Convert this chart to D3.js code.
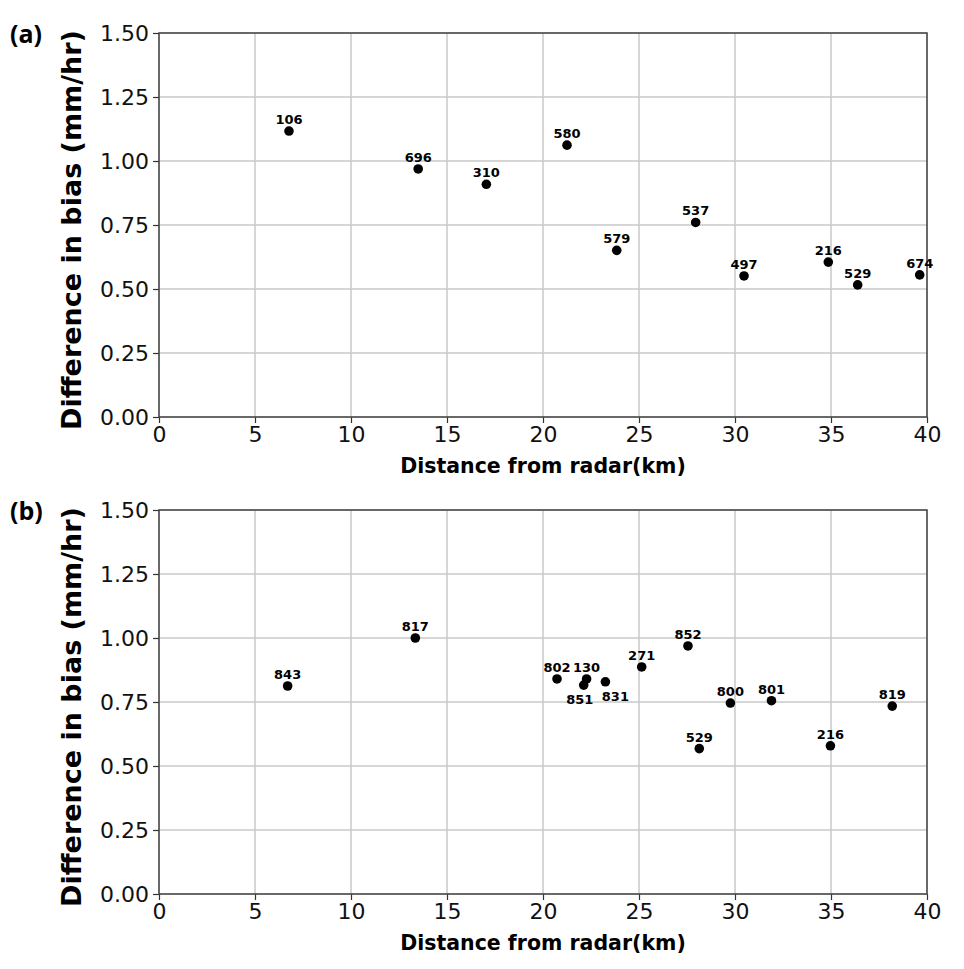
<!DOCTYPE html>
<html>
<head>
<meta charset="utf-8">
<script src="https://cdn.jsdelivr.net/npm/d3@7"></script>
<style>
  body { margin: 0; background: #fff; }
  svg { display: block; }
</style>
</head>
<body>
<svg id="chart"></svg>
<script>
// Panel (a)
const stationsA = ['106', '696', '310', '580', '579', '537', '497', '216', '529', '674'];
const distA = [6.77, 13.5, 17.05, 21.25, 23.84, 27.95, 30.47, 34.86, 36.39, 39.62];
const biasA = [1.117, 0.969, 0.909, 1.062, 0.651, 0.76, 0.551, 0.605, 0.516, 0.555];

// Panel (b)
const stationsB = ['843', '817', '802', '130', '851', '831', '271', '852', '529', '800', '801', '216', '819'];
const distB = [6.70, 13.35, 20.73, 22.27, 22.12, 23.25, 25.14, 27.55, 28.14, 29.76, 31.9, 34.97, 38.19];
const biasB = [0.8125, 1.00, 0.84, 0.84, 0.816, 0.829, 0.887, 0.969, 0.568, 0.746, 0.755, 0.579, 0.734];

const xTicks = [0, 5, 10, 15, 20, 25, 30, 35, 40];
const yTicks = [0, 0.25, 0.5, 0.75, 1.0, 1.25, 1.5];

const width = 964, height = 969;
const svg = d3.select('#chart').attr('width', width).attr('height', height);

const left = 159, right = 927;
const x = d3.scaleLinear().domain([0, 40]).range([left, right]);

function drawPanel(tag, top, stations, dist, bias, belowLabels) {
  const bottom = top + 384;
  const y = d3.scaleLinear().domain([0, 1.5]).range([bottom, top]);
  const g = svg.append('g');

  // grid
  g.append('g').selectAll('line').data(xTicks).enter().append('line')
    .attr('x1', d => x(d)).attr('x2', d => x(d))
    .attr('y1', top).attr('y2', bottom)
    .attr('stroke', '#c8c8c8').attr('stroke-width', 1.5);
  g.append('g').selectAll('line').data(yTicks).enter().append('line')
    .attr('x1', left).attr('x2', right)
    .attr('y1', d => y(d)).attr('y2', d => y(d))
    .attr('stroke', '#c8c8c8').attr('stroke-width', 1.5);

  // axes
  const xAxis = g.append('g')
    .attr('transform', `translate(0,${bottom})`)
    .call(d3.axisBottom(x).tickValues(xTicks).tickFormat(d3.format('d')).tickSize(6).tickPadding(3));
  const yAxis = g.append('g')
    .attr('transform', `translate(${left},0)`)
    .call(d3.axisLeft(y).tickValues(yTicks).tickFormat(d3.format('.2f')).tickSize(6).tickPadding(4));
  [xAxis, yAxis].forEach(a => {
    a.select('.domain').remove();
    a.selectAll('line').attr('stroke', '#333').attr('stroke-width', 1.2);
    a.selectAll('text')
      .style('font-family', 'DejaVu Sans')
      .style('font-size', '22px')
      .attr('fill', '#111');
  });

  // frame
  g.append('rect')
    .attr('x', left).attr('y', top)
    .attr('width', right - left).attr('height', bottom - top)
    .attr('fill', 'none').attr('stroke', '#444').attr('stroke-width', 1.5);

  // points
  g.append('g').selectAll('circle').data(stations).enter().append('circle')
    .attr('cx', (d, i) => x(dist[i]))
    .attr('cy', (d, i) => y(bias[i]))
    .attr('r', 4.8)
    .attr('fill', '#000');

  // station labels (two crowded ones in panel b sit below their point)
  g.append('g').selectAll('text').data(stations).enter().append('text')
    .attr('x', (d, i) => x(dist[i]) + (d === '831' && belowLabels ? 10 : (d === '851' && belowLabels ? -4 : 0)))
    .attr('y', (d, i) => y(bias[i]) + (belowLabels && belowLabels.has(d) ? 19 : -7))
    .attr('text-anchor', 'middle')
    .style('font-family', 'DejaVu Sans')
    .style('font-weight', 'bold')
    .style('font-size', '13px')
    .text(d => d);

  // axis labels
  g.append('text')
    .attr('transform', `translate(72,${(top + bottom) / 2 + 5}) rotate(-90)`)
    .attr('dy', '0.35em')
    .attr('text-anchor', 'middle')
    .style('font-family', 'DejaVu Sans')
    .style('font-weight', 'bold')
    .style('font-size', '27px')
    .text('Difference in bias (mm/hr)');

  g.append('text')
    .attr('x', (left + right) / 2)
    .attr('y', bottom + 56)
    .attr('text-anchor', 'middle')
    .style('font-family', 'DejaVu Sans')
    .style('font-weight', 'bold')
    .style('font-size', '20.5px')
    .text('Distance from radar(km)');

  // panel tag
  g.append('text')
    .attr('x', 10)
    .attr('y', top + 10)
    .style('font-family', 'Open Sans')
    .style('font-weight', 'bold')
    .style('font-size', '25px')
    .text(tag);
}

drawPanel('(a)', 33, stationsA, distA, biasA, null);
drawPanel('(b)', 510, stationsB, distB, biasB, new Set(['851', '831']));
</script>
</body>
</html>
